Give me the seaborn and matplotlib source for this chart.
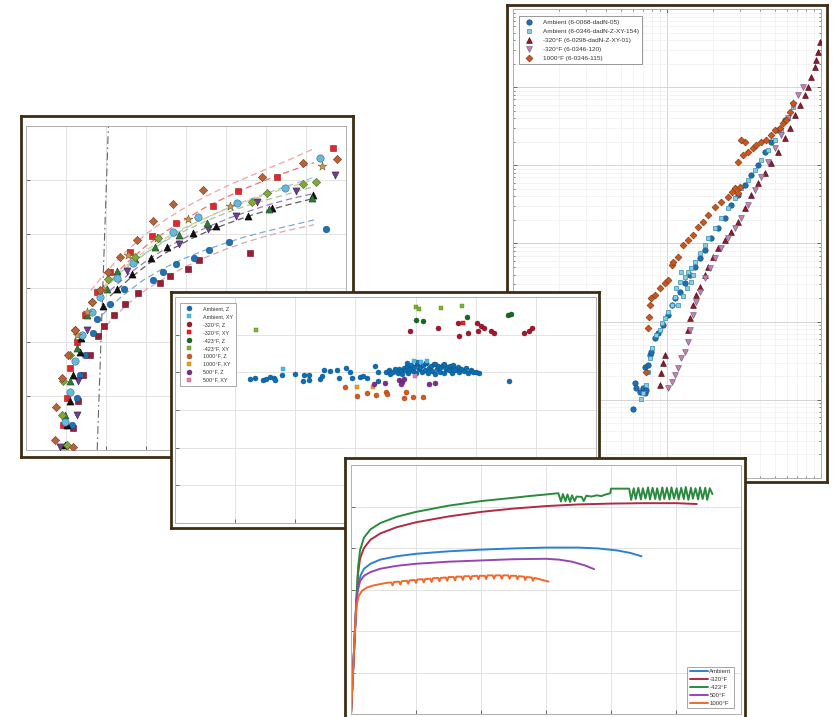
import numpy as np
import pandas as pd
import matplotlib
matplotlib.use("Agg")
import matplotlib.pyplot as plt
import seaborn as sns
from matplotlib.ticker import MultipleLocator, LogLocator, NullFormatter

# ======================= DATA =======================
# ---- Panel 1 (right): da/dN vs dK, log-log ----
p1_labels = ["Ambient (6-0068-dadN-05)", "Ambient (6-0346-dadN-Z-XY-154)",
             "-320°F (6-0298-dadN-Z-XY-01)", "-320°F (6-0346-120)", "1000°F (6-0346-115)"]
amb1_dk = [6.0, 6.17, 6.32, 6.65, 6.98, 7.16, 7.34, 7.16, 7.53, 7.71, 7.91, 8.32, 8.74, 9.42, 10.15, 10.7, 11.2,
           12.1, 13.0, 14.0, 15.1, 16.3, 17.6, 19.4, 21.4, 23.7, 26.2, 28.9, 31.9, 35.3, 39.0, 43.1, 47.6, 52.6, 58.1]
amb1_da = [7.6e-9, 1.63e-8, 1.40e-8, 1.27e-8, 1.40e-8, 1.21e-8, 1.34e-8, 2.66e-8, 2.79e-8, 3.75e-8, 4.13e-8,
           6.12e-8, 7.10e-8, 9.06e-8, 1.22e-7, 1.63e-7, 1.99e-7, 2.42e-7, 3.09e-7, 3.95e-7, 5.06e-7, 6.46e-7,
           8.26e-7, 1.16e-6, 1.56e-6, 2.10e-6, 3.11e-6, 4.17e-6, 5.60e-6, 7.52e-6, 1.01e-5, 1.50e-5, 2.01e-5,
           2.83e-5, 3.80e-5]
amb2_dk = [6.81, 6.98, 7.34, 7.53, 7.71, 7.99, 8.53, 8.96, 9.28, 9.66, 10.15, 10.7, 11.2, 11.5, 11.8, 12.1, 12.4,
           12.7, 13.0, 13.4, 13.7, 14.3, 14.4, 14.7, 15.1, 16.3, 17.6, 18.5, 20.4, 22.5, 24.9, 27.5, 30.4, 33.6,
           37.1, 41.0, 45.3, 50.0, 55.2, 61.1, 65.8]
amb2_da = [1.04e-8, 1.21e-8, 1.55e-8, 2.29e-8, 3.40e-8, 4.56e-8, 6.75e-8, 7.82e-8, 9.53e-8, 1.10e-7, 1.34e-7,
           1.63e-7, 2.09e-7, 2.67e-7, 1.63e-7, 3.25e-7, 4.36e-7, 2.15e-7, 3.77e-7, 2.67e-7, 4.36e-7, 3.25e-7,
           4.81e-7, 3.95e-7, 5.86e-7, 7.49e-7, 9.57e-7, 1.16e-6, 1.56e-6, 2.10e-6, 2.82e-6, 3.78e-6, 5.08e-6,
           6.49e-6, 8.71e-6, 1.17e-5, 1.57e-5, 2.11e-5, 2.83e-5, 3.99e-5, 5.63e-5]
m320a_dk = [8.96, 9.19, 9.42, 9.66, 13.7, 14.0, 14.7, 15.5, 16.3, 17.6, 18.5, 19.9, 21.4, 23.7, 26.2, 28.9, 31.9,
            35.3, 39.0, 43.1, 47.6, 52.6, 58.1, 62.6, 67.4, 72.6, 78.3, 82.3, 86.5, 91.0, 93.3, 95.7, 98.0]
m320a_da = [1.55e-8, 2.18e-8, 2.93e-8, 3.75e-8, 7.82e-8, 1.10e-7, 1.63e-7, 2.19e-7, 2.80e-7, 3.95e-7, 5.06e-7,
            6.79e-7, 8.68e-7, 1.11e-6, 1.42e-6, 1.90e-6, 2.82e-6, 4.17e-6, 5.89e-6, 7.91e-6, 1.06e-5, 1.50e-5,
            2.21e-5, 2.97e-5, 4.40e-5, 5.91e-5, 7.94e-5, 1.01e-4, 1.36e-4, 1.83e-4, 2.23e-4, 2.85e-4, 3.82e-4]
m320b_dk = [10.15, 10.7, 11.2, 11.8, 12.4, 13.0, 13.7, 14.2, 14.7, 15.5, 16.3, 17.6, 18.9, 20.4, 22.5, 24.9, 27.5,
            30.4, 33.6, 37.1, 41.0, 45.3, 50.0, 55.2, 61.1, 65.8, 70.9, 76.4]
m320b_da = [1.40e-8, 1.71e-8, 2.08e-8, 2.53e-8, 3.40e-8, 4.13e-8, 5.55e-8, 7.82e-8, 1.22e-7, 1.80e-7, 2.42e-7,
            3.58e-7, 4.81e-7, 6.46e-7, 8.68e-7, 1.16e-6, 1.56e-6, 2.10e-6, 3.11e-6, 4.83e-6, 7.16e-6, 1.11e-5,
            1.65e-5, 2.44e-5, 3.99e-5, 5.91e-5, 7.94e-5, 1.01e-4]
t1000_dk = [7.34, 7.53, 7.60, 7.71, 7.91, 8.32, 8.96, 9.66, 10.15, 10.7, 10.9, 11.8, 12.7, 13.7, 14.7, 15.9, 17.1,
            18.5, 20.4, 22.5, 24.9, 26.4, 27.5, 28.9, 29.6, 28.9, 31.2, 31.9, 30.4, 33.6, 36.2, 38.0, 41.0, 44.2,
            47.6, 50.0, 53.9, 56.6, 59.6, 62.6, 65.8]
t1000_da = [2.29e-8, 8.22e-8, 1.16e-7, 1.63e-7, 1.99e-7, 2.19e-7, 2.67e-7, 3.09e-7, 3.41e-7, 5.31e-7, 5.86e-7,
            6.79e-7, 9.57e-7, 1.11e-6, 1.29e-6, 1.64e-6, 1.90e-6, 2.32e-6, 2.96e-6, 3.43e-6, 3.97e-6, 4.60e-6,
            5.08e-6, 4.38e-6, 5.33e-6, 1.11e-5, 1.36e-5, 2.01e-5, 2.11e-5, 1.50e-5, 1.65e-5, 1.82e-5, 2.01e-5,
            2.11e-5, 2.44e-5, 2.83e-5, 2.97e-5, 3.44e-5, 3.80e-5, 4.86e-5, 6.21e-5]

# ---- Panel 2 (left): points with dashed fits ----
p2_diam_x = [0.725, 0.75, 0.89, 1.06, 1.225, 1.64, 1.85, 2.06, 2.35, 2.77, 3.18, 3.68, 4.43, 5.89, 6.93, 7.77, 1.18]
p2_diam_y = [0.185, 0.80, 1.33, 1.76, 2.22, 2.75, 2.96, 3.30, 3.58, 3.89, 4.24, 4.55, 4.81, 5.05, 5.31, 5.38, 0.06]
p2_rsq_x = [7.68, 6.27, 5.31, 4.67, 3.74, 3.14, 2.60, 2.10, 1.77, 1.475, 1.27, 1.10, 1.02, 0.93]
p2_rsq_y = [5.60, 5.05, 4.80, 4.52, 4.21, 3.97, 3.67, 3.30, 2.93, 2.50, 2.00, 1.51, 0.96, 0.46]
p2_lbc_x = [7.35, 6.475, 5.27, 4.31, 3.68, 2.68, 2.27, 1.85, 1.64, 1.39, 1.225, 1.10, 0.975]
p2_lbc_y = [5.41, 4.86, 4.57, 4.32, 4.03, 3.47, 3.18, 2.84, 2.56, 2.13, 1.64, 1.08, 0.52]
p2_star_x = [7.39, 5.10, 4.06, 3.27, 2.56, 1.93, 1.52, 1.27]
p2_star_y = [5.25, 4.51, 4.28, 3.92, 3.61, 2.99, 2.56, 2.13]
p2_ptri_x = [7.73, 6.75, 5.78, 5.25, 4.56, 3.83, 2.52, 1.52, 1.31, 1.27, 0.85]
p2_ptri_y = [5.09, 4.80, 4.59, 4.33, 4.09, 3.81, 3.32, 2.22, 1.27, 0.65, 0.06]
p2_ktri_x = [7.17, 6.14, 5.56, 4.74, 4.17, 3.52, 3.12, 2.64, 2.27, 1.93, 1.375, 1.35, 1.18, 1.10, 1.02, 0.975]
p2_ktri_y = [4.72, 4.48, 4.33, 4.15, 4.01, 3.75, 3.56, 3.25, 2.98, 2.67, 2.07, 1.82, 1.39, 0.90, 0.46, 0.09]
p2_gtri_x = [7.14, 6.08, 4.52, 3.83, 3.225, 2.725, 2.27, 2.03, 1.52, 1.27, 1.10, 0.975]
p2_gtri_y = [4.66, 4.46, 4.20, 3.98, 3.75, 3.54, 3.31, 2.99, 2.50, 1.88, 1.27, 0.65]
p2_gdia_x = [7.25, 6.92, 6.02, 5.66, 3.29, 2.725, 2.06, 1.64, 1.225, 1.10, 0.93, 0.89, 1.02]
p2_gdia_y = [4.97, 4.92, 4.75, 4.59, 3.93, 3.58, 3.17, 2.75, 2.22, 1.76, 1.27, 0.65, 0.09]
p2_bc_x = [7.50, 5.08, 4.58, 4.20, 3.75, 3.43, 3.18, 2.46, 2.10, 1.78, 1.68, 1.475, 1.35, 1.27, 1.14]
p2_bc_y = [4.09, 3.85, 3.70, 3.56, 3.44, 3.29, 3.15, 2.98, 2.70, 2.43, 2.16, 1.76, 1.39, 0.96, 0.46]
p2_drsq_x = [5.60, 4.33, 4.06, 3.60, 3.35, 2.81, 2.475, 2.21, 1.96, 1.81, 1.60, 1.43, 1.31, 1.18]
p2_drsq_y = [3.65, 3.51, 3.35, 3.23, 3.09, 2.90, 2.70, 2.50, 2.30, 2.11, 1.76, 1.39, 0.90, 0.40]
# dashed fit curves
p2_fit_x = [
    [1.62, 2.0, 2.5, 3.0, 3.5, 4.0, 4.5, 5.0, 5.5, 6.0, 6.5, 7.2],
    [2.0, 2.5, 3.0, 3.5, 4.0, 4.5, 5.0, 5.5, 6.0, 6.5, 7.2],
    [1.8, 2.3, 2.8, 3.3, 3.8, 4.3, 4.8, 5.3, 5.8, 6.3, 7.2],
    [1.9, 2.4, 3.0, 3.5, 4.0, 4.5, 5.0, 5.5, 6.0, 6.5, 7.2],
    [1.9, 2.4, 3.0, 3.5, 4.0, 4.5, 5.0, 5.5, 6.0, 6.5, 7.2],
    [2.1, 2.6, 3.1, 3.6, 4.1, 4.6, 5.1, 5.6, 6.1, 6.6, 7.2],
    [2.1, 2.6, 3.1, 3.6, 4.1, 4.6, 5.1, 5.6, 6.1, 6.6, 7.2],
    [1.9, 2.4, 2.9, 3.4, 3.9, 4.4, 4.9, 5.4, 5.9, 6.4, 7.2],
    [2.0, 2.5, 3.0, 3.5, 4.0, 4.5, 5.0, 5.5, 6.0, 6.5, 7.2],
]
p2_fit_y = [
    [2.95, 3.30, 3.68, 4.00, 4.27, 4.50, 4.70, 4.88, 5.04, 5.20, 5.35, 5.58],
    [3.10, 3.45, 3.78, 4.05, 4.28, 4.50, 4.68, 4.85, 5.00, 5.14, 5.32],
    [2.90, 3.25, 3.55, 3.80, 4.03, 4.23, 4.40, 4.56, 4.70, 4.83, 5.05],
    [3.00, 3.35, 3.70, 3.93, 4.13, 4.30, 4.46, 4.60, 4.73, 4.85, 5.00],
    [2.95, 3.30, 3.65, 3.88, 4.07, 4.24, 4.39, 4.52, 4.63, 4.73, 4.88],
    [2.95, 3.28, 3.55, 3.78, 3.98, 4.15, 4.30, 4.43, 4.55, 4.65, 4.75],
    [2.85, 3.18, 3.47, 3.70, 3.90, 4.07, 4.21, 4.34, 4.45, 4.55, 4.66],
    [2.50, 2.85, 3.13, 3.35, 3.53, 3.68, 3.81, 3.93, 4.03, 4.12, 4.26],
    [2.30, 2.68, 2.97, 3.20, 3.40, 3.57, 3.72, 3.85, 3.96, 4.06, 4.17],
]
p2_fit_colors = ["#f3a3a3", "#f07272", "#92c9e6", "#e8c67e", "#9fcb95", "#9c7cba", "#5e5e5e", "#7eaad6", "#e2a2aa"]
p2_ref_x = [1.78, 2.06]
p2_ref_y = [0.0, 6.0]

# ---- Panel 3 (middle): scatter by temperature/orientation ----
p3_labels = ["Ambient, Z", "Ambient, XY", "-320°F, Z", "-320°F, XY", "-423°F, Z", "-423°F, XY",
             "1000°F, Z", "1000°F, XY", "500°F, Z", "500°F, XY"]
p3_ambz_x = [1.24, 1.33, 1.47, 1.52, 1.58, 1.64, 1.66, 1.78, 2.00, 2.12, 2.15, 2.23, 2.23, 2.41, 2.44, 2.48, 2.58,
             2.69, 2.72, 2.85, 2.91, 2.94, 3.08, 3.13, 3.20, 3.33, 3.38, 3.38, 5.56,
             3.50, 3.55, 3.58, 3.62, 3.66, 3.70, 3.72, 3.75, 3.78, 3.80, 3.83, 3.85, 3.88, 3.90, 3.92, 3.95, 3.97,
             4.00, 4.02, 4.05, 4.07, 4.10, 4.12, 4.15, 4.17, 4.20, 4.22, 4.25, 4.27, 4.30, 4.32, 4.35, 4.38, 4.40,
             4.43, 4.45, 4.48, 4.50, 4.53, 4.55, 4.58, 4.60, 4.63, 4.66, 4.70, 4.73, 4.76, 4.80, 4.84, 4.88, 4.92,
             4.96, 5.00, 5.05, 3.86, 4.03, 4.18, 4.33, 4.47, 4.62]
p3_ambz_y = [3.81, 3.86, 3.80, 3.83, 3.88, 3.84, 3.80, 3.92, 3.96, 3.78, 3.92, 3.80, 3.92, 3.81, 3.90, 4.06, 4.04,
             4.06, 3.85, 4.12, 4.02, 3.84, 3.87, 3.90, 3.84, 4.17, 4.02, 3.78, 3.78,
             4.00, 4.06, 3.96, 4.02, 4.08, 3.98, 4.10, 4.04, 3.95, 4.12, 4.05, 4.18, 3.99, 4.09, 4.20, 4.03, 4.15,
             3.97, 4.22, 4.08, 4.14, 4.01, 4.19, 4.06, 4.24, 3.98, 4.12, 4.17, 4.04, 4.21, 3.96, 4.10, 4.16, 4.02,
             4.13, 4.20, 3.99, 4.08, 4.15, 4.05, 4.18, 3.97, 4.11, 4.06, 4.14, 4.01, 4.09, 4.04, 4.11, 3.99, 4.06,
             4.02, 4.00, 3.98, 4.26, 4.28, 4.25, 4.23, 4.21, 4.19]
p3_ambxy_x = [1.79, 3.97, 4.09, 4.19]
p3_ambxy_y = [4.10, 4.31, 4.28, 4.30]
p3_m320z_x = [3.90, 4.38, 4.71, 4.73, 4.88, 5.02, 5.04, 5.08, 5.13, 5.25, 5.30, 5.80, 5.88, 5.93]
p3_m320z_y = [5.09, 5.19, 5.32, 4.96, 5.04, 5.32, 5.10, 5.23, 5.17, 5.11, 5.05, 5.04, 5.10, 5.19]
p3_m320xy_x = [4.79]
p3_m320xy_y = [5.30]
p3_m423z_x = [4.01, 4.12, 4.85, 5.54, 5.58]
p3_m423z_y = [5.39, 5.36, 5.48, 5.51, 5.54]
p3_m423xy_x = [1.34, 4.00, 4.05, 4.43, 4.77]
p3_m423xy_y = [5.12, 5.73, 5.68, 5.70, 5.77]
p3_t1000z_x = [2.82, 3.03, 3.20, 3.35, 3.51, 3.53, 3.81, 3.84, 3.96, 4.13]
p3_t1000z_y = [3.60, 3.37, 3.46, 3.40, 3.47, 3.42, 3.33, 3.49, 3.34, 3.35]
p3_t1000xy_x = [3.02, 3.30]
p3_t1000xy_y = [3.62, 3.60]
p3_t500z_x = [3.31, 3.49, 3.73, 3.78, 3.81, 3.75, 4.23, 4.32]
p3_t500z_y = [3.68, 3.71, 3.80, 3.75, 3.81, 3.68, 3.68, 3.73]
p3_t500xy_x = [3.99]
p3_t500xy_y = [3.90]

# ---- Panel 4 (bottom right): stress-strain curves ----
p4_labels = ["Ambient", "-320°F", "-423°F", "500°F", "1000°F"]
amb_x = [0, 0.085, 0.11, 0.15, 0.2, 0.3, 0.45, 0.7, 1.0, 1.5, 2.0, 2.5, 3.0, 3.5, 3.8, 4.1, 4.3, 4.47]
amb_y = [0, 2.75, 3.10, 3.35, 3.50, 3.62, 3.72, 3.80, 3.86, 3.92, 3.96, 3.99, 4.01, 4.01, 3.99, 3.94, 3.88, 3.80]
m320_x = [0, 0.09, 0.11, 0.14, 0.2, 0.3, 0.45, 0.7, 1.0, 1.5, 2.0, 2.5, 3.0, 3.5, 4.0, 4.5, 5.0, 5.32]
m320_y = [0, 2.90, 3.40, 3.75, 4.00, 4.20, 4.35, 4.50, 4.62, 4.76, 4.87, 4.95, 5.01, 5.05, 5.07, 5.08, 5.08, 5.06]
m423_x = [0, 0.09, 0.11, 0.14, 0.2, 0.3, 0.45, 0.7, 1.0, 1.5, 2.0, 2.5, 2.73, 3.0, 3.19,
          3.23, 3.26, 3.30, 3.33, 3.37, 3.40, 3.44, 3.47, 3.55, 3.58, 3.62, 3.70, 3.78, 3.85, 3.92, 3.99, 4.0, 4.1,
          4.28, 4.31, 4.35, 4.38, 4.42, 4.46, 4.49, 4.53, 4.57, 4.60, 4.64, 4.68, 4.71, 4.75, 4.79, 4.82, 4.86,
          4.90, 4.93, 4.97, 5.01, 5.04, 5.08, 5.12, 5.15, 5.19, 5.23, 5.26, 5.30, 5.34, 5.37, 5.41, 5.45, 5.48,
          5.52, 5.56]
m423_y = [0, 3.00, 3.55, 3.95, 4.25, 4.45, 4.60, 4.75, 4.87, 5.02, 5.13, 5.21, 5.25, 5.29, 5.32,
          5.12, 5.30, 5.13, 5.29, 5.11, 5.27, 5.13, 5.24, 5.23, 5.13, 5.26, 5.24, 5.27, 5.25, 5.29, 5.32, 5.43, 5.43,
          5.43, 5.16, 5.44, 5.18, 5.45, 5.17, 5.44, 5.19, 5.46, 5.17, 5.45, 5.18, 5.44, 5.16, 5.46, 5.18, 5.45,
          5.17, 5.46, 5.19, 5.44, 5.17, 5.45, 5.18, 5.47, 5.16, 5.45, 5.19, 5.44, 5.17, 5.46, 5.18, 5.45, 5.16,
          5.44, 5.30]
t500_x = [0, 0.08, 0.10, 0.14, 0.2, 0.3, 0.45, 0.7, 1.0, 1.5, 2.0, 2.5, 3.0, 3.2, 3.4, 3.6, 3.74]
t500_y = [0, 2.65, 2.95, 3.20, 3.33, 3.42, 3.50, 3.57, 3.62, 3.67, 3.70, 3.73, 3.74, 3.72, 3.67, 3.58, 3.49]
t1000_x = [0, 0.07, 0.09, 0.12, 0.17, 0.25, 0.35, 0.45, 0.55,
           0.62, 0.64, 0.66, 0.74, 0.76, 0.78, 0.86, 0.88, 0.90, 0.98, 1.00, 1.02, 1.10, 1.12, 1.14,
           1.22, 1.24, 1.26, 1.34, 1.36, 1.38, 1.46, 1.48, 1.50, 1.58, 1.60, 1.62, 1.70, 1.72, 1.74,
           1.82, 1.84, 1.86, 1.94, 1.96, 1.98, 2.06, 2.08, 2.10, 2.18, 2.20, 2.22, 2.30, 2.32, 2.34,
           2.42, 2.44, 2.46, 2.54, 2.56, 2.58, 2.66, 2.68, 2.70, 2.78, 2.80, 2.82, 2.92, 3.04]
t1000_y = [0, 2.30, 2.65, 2.85, 2.97, 3.05, 3.10, 3.13, 3.16,
           3.17, 3.10, 3.18, 3.19, 3.12, 3.20, 3.21, 3.14, 3.22, 3.23, 3.16, 3.24, 3.25, 3.17, 3.25,
           3.26, 3.18, 3.27, 3.28, 3.20, 3.28, 3.29, 3.21, 3.30, 3.30, 3.22, 3.31, 3.31, 3.23, 3.32,
           3.32, 3.24, 3.32, 3.33, 3.25, 3.33, 3.33, 3.25, 3.34, 3.34, 3.26, 3.34, 3.34, 3.26, 3.34,
           3.34, 3.26, 3.33, 3.33, 3.25, 3.32, 3.31, 3.23, 3.30, 3.29, 3.21, 3.28, 3.24, 3.19]

# ======================= STYLE / LAYOUT =======================
sns.set_theme(style="white")
plt.rcParams['font.family'] = ['Liberation Sans', 'DejaVu Sans']

W, H = 838, 717
fig = plt.figure(figsize=(W / 100, H / 100), dpi=100)
fig.patch.set_facecolor('white')
BORDER = '#3d2d15'


def px_rect(x0, y0, x1, y1):
    return [x0 / W, 1 - y1 / H, (x1 - x0) / W, (y1 - y0) / H]


def make_frame(x0, y0, x1, y1):
    ax = fig.add_axes(px_rect(x0, y0, x1, y1))
    ax.set_facecolor('white')
    ax.set_xticks([])
    ax.set_yticks([])
    for sp in ax.spines.values():
        sp.set_visible(True)
        sp.set_color(BORDER)
        sp.set_linewidth(2.0)
    return ax


def make_inner(x0, y0, x1, y1):
    ax = fig.add_axes(px_rect(x0, y0, x1, y1))
    ax.set_facecolor('white')
    for sp in ax.spines.values():
        sp.set_visible(True)
        sp.set_color('#b0b0b0')
        sp.set_linewidth(0.7)
    ax.set_axisbelow(True)
    return ax


def finish(ax, allsides=False):
    ax.tick_params(which='both', direction='in', colors='#555555', labelbottom=False, labelleft=False,
                   labeltop=False, labelright=False, top=allsides, right=allsides, bottom=True, left=True)
    ax.tick_params(which='major', length=3, width=0.6)
    ax.tick_params(which='minor', length=1.6, width=0.5)
    ax.set_xlabel('')
    ax.set_ylabel('')


# ---------------- Panel 2 (left, bottom-most) ----------------
make_frame(21, 116, 353, 457)
ax2 = make_inner(26, 126, 346, 450)
ax2.grid(True, color='#dedede', lw=0.6)
for fx, fy, fc in zip(p2_fit_x, p2_fit_y, p2_fit_colors):
    sns.lineplot(x=fx, y=fy, ax=ax2, color=fc, lw=0.9, linestyle=(0, (5, 3)), sort=False, estimator=None)
sns.lineplot(x=p2_ref_x, y=p2_ref_y, ax=ax2, color='#666666', lw=0.8, linestyle=(0, (7, 3, 1.5, 3)),
             sort=False, estimator=None)
p2_series = [
    (p2_drsq_x, p2_drsq_y, 's', 15, '#9c1c33', '#5e0d1c'),
    (p2_bc_x, p2_bc_y, 'o', 22, '#2070b5', '#154a7a'),
    (p2_rsq_x, p2_rsq_y, 's', 15, '#e3262d', '#9a1515'),
    (p2_ptri_x, p2_ptri_y, 'v', 26, '#6b3f8f', '#3c1f5a'),
    (p2_ktri_x, p2_ktri_y, '^', 26, '#111111', '#000000'),
    (p2_gtri_x, p2_gtri_y, '^', 26, '#2f7a3b', '#17451e'),
    (p2_lbc_x, p2_lbc_y, 'o', 28, '#6ab7dd', '#2b6f95'),
    (p2_star_x, p2_star_y, '*', 42, '#c49a55', '#7a5a25'),
    (p2_gdia_x, p2_gdia_y, 'D', 18, '#80a63c', '#4c6b1f'),
    (p2_diam_x, p2_diam_y, 'D', 18, '#b5633c', '#7a3a1f'),
]
for sx, sy, mk, sz, fc, ec in p2_series:
    sns.scatterplot(x=sx, y=sy, ax=ax2, marker=mk, s=sz, color=fc, edgecolor=ec, linewidth=0.4, zorder=3)
ax2.set_xlim(0, 8)
ax2.set_ylim(0, 6)
ax2.xaxis.set_major_locator(MultipleLocator(1))
ax2.yaxis.set_major_locator(MultipleLocator(1))
finish(ax2)

# ---------------- Panel 1 (right, log-log) ----------------
make_frame(507, 5, 827, 482)
ax1 = make_inner(513, 9, 821, 478)
ax1.set_xscale('log')
ax1.set_yscale('log')
p1_series = [
    (amb1_dk, amb1_da, 'o', 15, '#1f6eb0', '#174f80'),
    (amb2_dk, amb2_da, 's', 12, '#8fcbe0', '#2f8fb8'),
    (m320a_dk, m320a_da, '^', 17, '#8b1c2e', '#5a0f1c'),
    (m320b_dk, m320b_da, 'v', 17, '#b888b0', '#8a5a85'),
    (t1000_dk, t1000_da, 'D', 12, '#c9571f', '#8a3a12'),
]
for (sx, sy, mk, sz, fc, ec), lab in zip(p1_series, p1_labels):
    sns.scatterplot(x=sx, y=sy, ax=ax1, marker=mk, s=sz, color=fc, edgecolor=ec, linewidth=0.5,
                    label=lab, zorder=3)
ax1.set_xlim(1, 100)
ax1.set_ylim(1e-9, 1e-3)
ax1.xaxis.set_major_locator(LogLocator(base=10))
ax1.yaxis.set_major_locator(LogLocator(base=10))
ax1.xaxis.set_minor_locator(LogLocator(base=10, subs=np.arange(2, 10)))
ax1.yaxis.set_minor_locator(LogLocator(base=10, subs=np.arange(2, 10)))
ax1.xaxis.set_minor_formatter(NullFormatter())
ax1.yaxis.set_minor_formatter(NullFormatter())
ax1.grid(True, which='major', color='#d4d4d4', lw=0.7)
ax1.grid(True, which='minor', color='#efefef', lw=0.5)
leg1 = ax1.legend(loc='upper left', bbox_to_anchor=(0.02, 0.985), borderaxespad=0, fontsize=4.6,
                  frameon=True, fancybox=False, edgecolor='#888888', framealpha=1, labelspacing=0.55,
                  handletextpad=1.2, borderpad=0.5, markerscale=1.0)
leg1.get_frame().set_linewidth(0.6)
for t in leg1.get_texts():
    t.set_color('#333333')
finish(ax1, allsides=True)

# ---------------- Panel 3 (middle) ----------------
make_frame(171, 292, 599, 528)
ax3 = make_inner(175, 297, 596, 523)
ax3.grid(True, color='#dedede', lw=0.6)
p3_series = [
    (p3_ambz_x, p3_ambz_y, 'o', '#0b6fb5', '#0a4a7a'),
    (p3_ambxy_x, p3_ambxy_y, 's', '#4fb9ec', '#3a9ccc'),
    (p3_m320z_x, p3_m320z_y, 'o', '#a5162f', '#6a0e1e'),
    (p3_m320xy_x, p3_m320xy_y, 's', '#ff1a1a', '#c00000'),
    (p3_m423z_x, p3_m423z_y, 'o', '#146b23', '#0b4314'),
    (p3_m423xy_x, p3_m423xy_y, 's', '#7cb134', '#5a8a22'),
    (p3_t1000z_x, p3_t1000z_y, 'o', '#d9581c', '#9a3a10'),
    (p3_t1000xy_x, p3_t1000xy_y, 's', '#e6a51c', '#b07a10'),
    (p3_t500z_x, p3_t500z_y, 'o', '#7e2f8e', '#55195f'),
    (p3_t500xy_x, p3_t500xy_y, 's', '#d784b4', '#b0608f'),
]
for (sx, sy, mk, fc, ec), lab in zip(p3_series, p3_labels):
    sns.scatterplot(x=sx, y=sy, ax=ax3, marker=mk, s=13 if mk == 'o' else 10, color=fc, edgecolor=ec,
                    linewidth=0.3, label=lab, zorder=3)
ax3.set_xlim(0, 7)
ax3.set_ylim(0, 6)
ax3.xaxis.set_major_locator(MultipleLocator(1))
ax3.yaxis.set_major_locator(MultipleLocator(1))
leg3 = ax3.legend(loc='upper left', bbox_to_anchor=(0.012, 0.975), borderaxespad=0, fontsize=3.9,
                  frameon=True, fancybox=False, edgecolor='#999999', framealpha=1, labelspacing=0.55,
                  handletextpad=1.6, borderpad=0.6, markerscale=1.0)
leg3.get_frame().set_linewidth(0.6)
for t in leg3.get_texts():
    t.set_color('#333333')
finish(ax3)

# ---------------- Panel 4 (bottom right, top-most) ----------------
make_frame(345, 458, 745, 722)
ax4 = make_inner(351, 465, 741, 714)
ax4.grid(True, color='#dedede', lw=0.6)
p4_series = [
    (amb_x, amb_y, '#2a83d0'),
    (m320_x, m320_y, '#b12a44'),
    (m423_x, m423_y, '#2b8a3e'),
    (t500_x, t500_y, '#9447b2'),
    (t1000_x, t1000_y, '#f2682a'),
]
for (lx, ly, lc), lab in zip(p4_series, p4_labels):
    sns.lineplot(x=lx, y=ly, ax=ax4, color=lc, lw=1.4, sort=False, estimator=None, label=lab)
ax4.set_xlim(0, 6)
ax4.set_ylim(0, 6)
ax4.xaxis.set_major_locator(MultipleLocator(1))
ax4.yaxis.set_major_locator(MultipleLocator(1))
leg4 = ax4.legend(loc='lower right', bbox_to_anchor=(0.982, 0.024), borderaxespad=0, fontsize=4.3,
                  frameon=True, fancybox=False, edgecolor='#999999', framealpha=1, labelspacing=0.45,
                  handlelength=3.0, handletextpad=0.3, borderpad=0.4)
leg4.get_frame().set_linewidth(0.6)
for t in leg4.get_texts():
    t.set_color('#333333')
finish(ax4)

fig.savefig("out.png", dpi=100, facecolor='white')
